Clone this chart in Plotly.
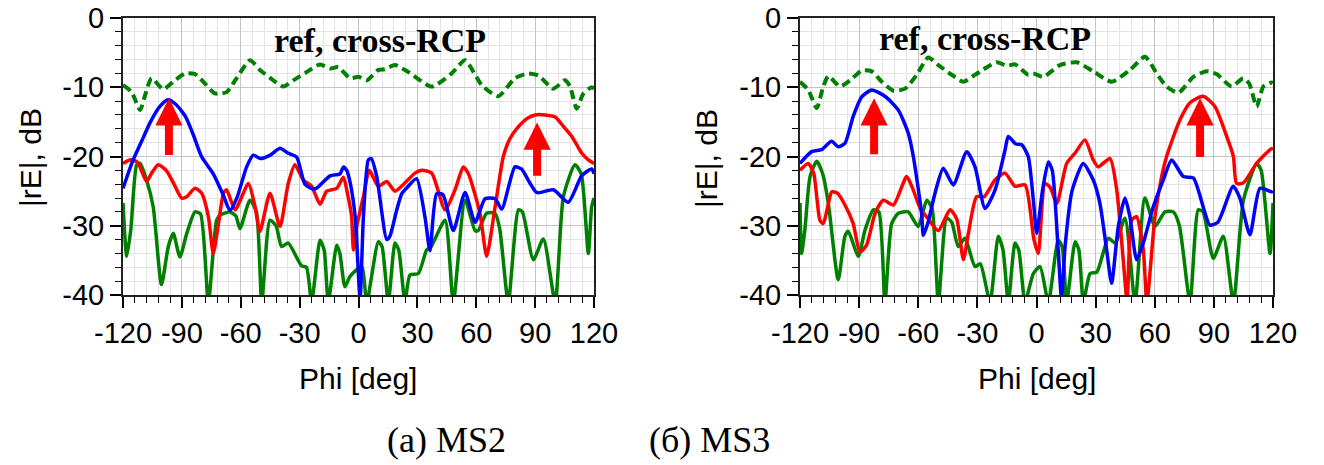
import plotly.graph_objects as go

# ---------------- data ----------------
# MS2 (left panel)
ms2_blue_phi = [-120,-115,-111,-106,-101,-97,-93,-88,-84,-80,-74,-69,-65.5,-62,-57,-53.6,-50,-45,-40,-36,-31.5,-27.3,-23,-21,-14.5,-9.4,-7.7,-6,-4.3,-1.7,0.8,2.5,5,6.5,9.3,14.4,16,19.5,22,25,29.6,33.9,36.4,39.8,43,48.3,54.3,59.4,64.5,69.6,73,79.7,83,90.8,99.3,106.9,113.7,118.8,120]
ms2_blue_db = [-24.6,-20.6,-18.1,-15,-12.7,-11.8,-12.5,-14.3,-17,-20,-22.5,-25.5,-27.8,-26,-21.5,-19.8,-20.3,-19.8,-18.8,-19.5,-20.1,-24,-24.7,-24.5,-22.8,-22.5,-21.5,-22,-23.7,-28.7,-40.5,-28.7,-20.5,-20.3,-22.9,-32,-31.5,-27.7,-25.4,-24.4,-23.2,-28.8,-33.6,-25.4,-25.5,-30.7,-25.2,-29.5,-26.1,-26.1,-27.6,-21.5,-21.8,-25.2,-24.8,-26.6,-22.8,-21.8,-22.5]

ms2_red_phi = [-120,-116.6,-114,-112.2,-108,-105.4,-102,-97.7,-94,-90.1,-87.5,-83.3,-79.9,-76.5,-74,-71.5,-68.8,-67.2,-62.9,-56.1,-52.7,-50.2,-45.1,-40,-35.8,-32.4,-28.1,-23.9,-19.6,-16.2,-11.1,-7.7,-5.5,-3.5,-2.6,-0.9,2.5,5.5,10.1,14.4,18.6,23.7,28.8,32.2,37.3,44.1,49.2,53.4,56,61.9,65.3,69.6,73.8,77,81.5,86,90,95,100.2,104,108.7,113.7,117.1,120]
ms2_red_db = [-21,-20.5,-20.6,-21,-23.6,-22.4,-21.2,-22.1,-24,-26,-25.8,-24.6,-25.3,-28.7,-34,-30,-25.3,-24.8,-27.7,-23.9,-27.3,-30.8,-25.3,-30.1,-23.9,-21.2,-23.4,-24.3,-26.9,-25,-24.6,-23,-25.5,-28.7,-33.5,-30.1,-25.8,-22,-24.3,-23.6,-25,-23.8,-22.4,-22,-22.4,-27.7,-24.8,-21.5,-22.5,-28.2,-34.4,-27.3,-20,-17.5,-15.7,-14.5,-14,-14,-14.3,-15.5,-17.1,-19.5,-20.5,-21]

ms2_green_phi = [-120,-118.1,-116,-113,-111.3,-108,-104.6,-100.4,-96.9,-94.4,-91,-87.5,-83.3,-80.5,-76.5,-72.3,-70.6,-65.5,-62.5,-60.4,-55.3,-52,-49.3,-45.1,-42,-39.2,-35.8,-29,-26.5,-23.9,-19.6,-17.5,-15.4,-11.1,-9.5,-6.9,-4.3,1.6,4.2,10.1,12,15.2,18.6,20.5,23.7,26.2,30.5,34.7,37,44.1,48.3,54.3,59.4,61,65.3,69.6,72,76.3,81.5,83.5,89.1,94.2,100.2,104.4,110.3,113.5,117.1,118.8,120]
ms2_green_db = [-26.7,-34.4,-30.5,-21.2,-21,-23.4,-27.3,-38.5,-33,-31.1,-34.5,-31.1,-28,-28.3,-41,-29.2,-28.5,-28,-28.6,-30.4,-26.3,-28,-41,-29.2,-30,-33,-32.5,-35.8,-36,-41,-32.1,-33.5,-41,-32.8,-34,-38.8,-37.3,-35.9,-41,-32.3,-33,-41,-32.5,-33.5,-41,-37.1,-36.9,-33.5,-33,-29.2,-41,-26.3,-30.7,-30.7,-28.2,-28.2,-30.5,-41,-27.7,-28,-34.9,-31.9,-41,-25.8,-21.2,-22.5,-34,-27.3,-26]

ms2_ref_phi = [-120,-115.6,-111.3,-108.8,-105.4,-99.5,-94.4,-88.4,-83.3,-79.1,-73.1,-67.2,-62.1,-55.3,-50.2,-43.4,-38.3,-33.2,-26.4,-19.6,-14.5,-10.3,-4.3,0,4.2,10.1,13.5,18.6,25.4,37.3,47.5,54.3,62.8,71.2,79.7,86.5,91.6,99.3,105.2,107.8,111.2,114.6,118.8,120]
ms2_ref_db = [-9.7,-10.7,-13.3,-11.2,-8.7,-10.3,-9.2,-8.0,-8.1,-9.2,-10.9,-10.7,-8.7,-6.1,-7.5,-9.0,-9.9,-9.0,-7.8,-6.7,-7.3,-7.1,-8.7,-8.5,-9.0,-7.5,-7.4,-6.8,-7.8,-9.9,-8.0,-6.1,-9.7,-11.3,-8.7,-8.0,-8.3,-10.2,-9.0,-9.9,-13.1,-10.9,-10.0,-10.2]

# MS3 (right panel)
ms3_blue_phi = [-120,-114.1,-109,-104,-100.6,-97.2,-93,-88.7,-83.6,-76.9,-70.1,-65.1,-62.5,-58.3,-57.4,-55,-51.5,-47.3,-42.2,-35.4,-31.2,-26.1,-21.1,-16,-14.3,-10.5,-7.5,-4.2,-1.6,0.1,3,6,8,11,12.7,14.5,18,23.7,28.8,32.2,35.6,38.1,41.5,44.9,47.4,50.8,54.2,59.2,64.3,68.6,74.5,79.6,88,92,99.8,103.2,108.3,113.4,119.3,120]
ms3_blue_db = [-21,-19.3,-19,-17.8,-18.6,-18.1,-14.2,-11.4,-10.4,-11.3,-13.3,-16.6,-20,-28.2,-31.4,-29.5,-25.3,-21.7,-24.1,-19.3,-21.5,-27.5,-24.9,-19.1,-17.1,-18.2,-18.3,-20,-26.3,-31.1,-25,-20.8,-22,-33.5,-40.5,-33,-25,-21,-23.4,-26.8,-33.5,-38.3,-30.1,-26,-28.7,-34.9,-32.5,-27.3,-23.4,-20.5,-22.9,-23.1,-29.9,-29.5,-24.3,-26,-31.3,-24.6,-25.1,-25]

ms3_red_phi = [-120,-115.8,-113,-109.9,-108.2,-105.6,-103.9,-101,-97.2,-93,-89.6,-86.2,-81.9,-77.7,-72.6,-65.9,-63,-59,-55,-49.8,-43.9,-40.5,-37.1,-34.5,-30.4,-26.5,-21.1,-16,-10.9,-5.8,-1.3,0.9,4.3,7,10.3,15.3,19.6,24.6,28.8,31.3,37.3,40.7,44,46,48.3,50.8,54.2,56,60.1,63.5,66,72.8,78,84.6,90.6,96.5,99.9,101.5,105,111.7,118.5,120]
ms3_red_db = [-22,-21,-22.5,-29.2,-29.7,-26.8,-25.1,-25.3,-27,-29.7,-33.8,-32.8,-28.2,-26.3,-27,-22.9,-24.5,-27.5,-29,-30.7,-27.7,-29,-34.9,-31,-25.8,-25.8,-23.4,-22.4,-24.3,-24.1,-32,-34,-23.9,-24.5,-26.8,-21,-19.5,-17.6,-20.5,-21.5,-20.3,-24.8,-34.9,-41,-29.2,-28.7,-33.5,-41,-28.7,-22.9,-20,-14.7,-12.2,-11.3,-12.8,-17.1,-20,-23.9,-23.8,-21,-19,-18.8]

ms3_green_phi = [-120,-119.2,-117.5,-114.9,-111.5,-108.5,-105.6,-100.6,-97.2,-95.5,-90.4,-87,-82.8,-80,-76.9,-73.5,-70.1,-65.1,-60,-55.7,-53,-49.8,-45.6,-43,-39.7,-36.3,-31.2,-28.5,-23.6,-19.4,-17,-14.3,-10.9,-9,-5.8,-1.6,1.8,6,11,13,15.3,19.6,21.5,23.8,27.2,30.6,36.5,40,44.9,50,55,60.1,65.2,69.4,72.5,77.9,82.1,84.5,89.7,94.8,99.9,105,111.7,114,118.5,120]
ms3_green_db = [-26.7,-34,-30.5,-22.9,-20.7,-22.5,-26.8,-37.8,-31.5,-30.8,-34.4,-30.6,-27.7,-28,-41,-29.7,-28.2,-28,-30.1,-26.3,-27.5,-41,-28.9,-29.5,-33,-31.8,-35.9,-35.5,-41,-31.5,-33.5,-41,-32.5,-33.5,-41,-36.9,-35.9,-41,-32.1,-33,-41,-32.3,-33.5,-41,-36.9,-36.7,-31.8,-32.5,-28.9,-41,-26,-30.1,-28,-28,-30,-41,-27.7,-28,-34.7,-31.5,-41,-26.3,-21,-22,-34,-26.7]

ms3_ref_phi = [-120,-115.8,-111.5,-108.2,-105.6,-99.7,-94.6,-88.7,-83.6,-78.5,-72.6,-66.7,-60.8,-54.9,-49.8,-43,-37.1,-31.2,-20.2,-15.1,-10.9,-4.2,-1.6,3.4,11.9,20.4,28.8,38.1,47.4,55,61,66,72,79.6,86.3,91.4,99,104.9,108,111.7,115.1,119.3,120]
ms3_ref_db = [-9.2,-10.4,-13.0,-9.9,-8.4,-9.9,-9.0,-7.6,-7.7,-9.2,-10.5,-10.2,-8.2,-5.7,-6.8,-8.2,-9.2,-8.2,-6.4,-6.9,-6.7,-8.2,-8.0,-8.5,-6.8,-6.4,-7.7,-9.2,-7.5,-5.6,-8.0,-9.9,-10.8,-8.5,-7.7,-8.1,-9.9,-8.7,-9.5,-12.8,-9.9,-9.3,-9.4]

# red arrows marking the main beams: (phi, tip dB, tail dB)
ms2_arrow_phi = [-96.6, 91]
ms2_arrow_tip = [-11.6, -15.1]
ms2_arrow_tail = [-20, -23]
ms3_arrow_phi = [-82.4, 83]
ms3_arrow_tip = [-11.6, -11.6]
ms3_arrow_tail = [-19.9, -20.3]

x_ticks = [-120, -90, -60, -30, 0, 30, 60, 90, 120]
y_ticks = [0, -10, -20, -30, -40]
panel_label = "ref, cross-RCP"
captions = ["(a) MS2", "(\u0431) MS3"]

# ---------------- figure ----------------
W, H = 1324, 465
def px(x):
    return x / W
def py(y):
    return 1 - y / H

BLUE, RED, GREEN = "#0000ff", "#ff0000", "#008000"
SANS = "Liberation Sans, Arial, sans-serif"
SERIF = "Liberation Serif, Times New Roman, serif"

fig = go.Figure()
panels = [
    ("x", "y", ms2_blue_phi, ms2_blue_db, ms2_red_phi, ms2_red_db, ms2_green_phi, ms2_green_db, ms2_ref_phi, ms2_ref_db),
    ("x2", "y2", ms3_blue_phi, ms3_blue_db, ms3_red_phi, ms3_red_db, ms3_green_phi, ms3_green_db, ms3_ref_phi, ms3_ref_db),
]
SM = 0.6
for xa, ya, bp, bd, rp, rd, gp, gd, fp, fd in panels:
    fig.add_trace(go.Scatter(x=fp, y=fd, mode="lines", xaxis=xa, yaxis=ya,
                             line=dict(color=GREEN, width=4, dash="9px,5px", shape="spline", smoothing=SM),
                             showlegend=False))
    fig.add_trace(go.Scatter(x=gp, y=gd, mode="lines", xaxis=xa, yaxis=ya,
                             line=dict(color=GREEN, width=3.5, shape="spline", smoothing=SM), showlegend=False))
    fig.add_trace(go.Scatter(x=rp, y=rd, mode="lines", xaxis=xa, yaxis=ya,
                             line=dict(color=RED, width=3.5, shape="spline", smoothing=SM), showlegend=False))
    fig.add_trace(go.Scatter(x=bp, y=bd, mode="lines", xaxis=xa, yaxis=ya,
                             line=dict(color=BLUE, width=3.5, shape="spline", smoothing=SM), showlegend=False))

TICKFONT = dict(family=SANS, size=29, color="black")

def xaxis_cfg(dom):
    return dict(domain=dom, range=[-120, 120], tickvals=x_ticks, ticktext=[str(v) for v in x_ticks],
                ticks="outside", ticklen=11, tickwidth=1.5, tickcolor="black", automargin=False,
                showline=True, linecolor="#222", linewidth=2, mirror=True,
                showgrid=True, gridcolor="#c4c4c4", gridwidth=1.2, zeroline=False,
                tickfont=TICKFONT,
                minor=dict(dtick=6, tick0=-120, ticks="outside", ticklen=6, tickwidth=1.2, tickcolor="black",
                           showgrid=True, gridcolor="#e4e4e4", gridwidth=1),
                fixedrange=True)

def yaxis_cfg(dom, anchor):
    return dict(domain=dom, range=[-40, 0], tickvals=y_ticks, ticktext=[str(v) for v in y_ticks],
                anchor=anchor, ticks="outside", ticklen=11, tickwidth=1.5, tickcolor="black", automargin=False,
                showline=True, linecolor="#222", linewidth=2, mirror=True,
                showgrid=True, gridcolor="#c4c4c4", gridwidth=1.2, zeroline=False,
                tickfont=TICKFONT,
                minor=dict(dtick=2, ticks="outside", ticklen=6, tickwidth=1.2, tickcolor="black",
                           showgrid=True, gridcolor="#e4e4e4", gridwidth=1),
                fixedrange=True)

ydom = [py(295), py(18)]
fig.update_layout(
    width=W, height=H, margin=dict(l=0, r=0, t=0, b=0, autoexpand=False),
    paper_bgcolor="white", plot_bgcolor="white",
    xaxis=dict(**xaxis_cfg([px(123), px(594)]), anchor="y"),
    yaxis=yaxis_cfg(ydom, "x"),
    xaxis2=dict(**xaxis_cfg([px(800), px(1273)]), anchor="y2"),
    yaxis2=yaxis_cfg(ydom, "x2"),
)

shapes = []
annotations = []
# white label boxes and labels
for (x0, x1, y1, tx, ty) in [(268, 556, 58, 272, 40), (873, 1160, 56, 877, 38)]:
    shapes.append(dict(type="rect", xref="paper", yref="paper", x0=px(x0), x1=px(x1), y0=py(y1), y1=py(19),
                       fillcolor="white", line=dict(width=0), layer="between"))
    annotations.append(dict(text="<b>" + panel_label + "</b>", xref="paper", yref="paper", x=px(tx), y=py(ty),
                            xanchor="left", yanchor="middle", showarrow=False,
                            font=dict(family=SERIF, size=34, color="black")))

# arrows
for xr, yr, phis, tips, tails in [("x", "y", ms2_arrow_phi, ms2_arrow_tip, ms2_arrow_tail),
                                  ("x2", "y2", ms3_arrow_phi, ms3_arrow_tip, ms3_arrow_tail)]:
    for p, t, b in zip(phis, tips, tails):
        annotations.append(dict(x=p, y=t, ax=p, ay=b, xref=xr, yref=yr, axref=xr, ayref=yr, text="",
                                showarrow=True, arrowhead=2, arrowsize=0.68, arrowwidth=8,
                                arrowcolor=RED, standoff=0))

# axis titles
for cx in [358, 1037]:
    annotations.append(dict(text="Phi [deg]", xref="paper", yref="paper", x=px(cx), y=py(378),
                            xanchor="center", yanchor="middle", showarrow=False,
                            font=dict(family=SANS, size=30, color="black")))
for cx in [30, 706]:
    annotations.append(dict(text="|rE|, dB", xref="paper", yref="paper", x=px(cx), y=py(158),
                            xanchor="center", yanchor="middle", showarrow=False, textangle=-90,
                            font=dict(family=SANS, size=30, color="black")))
# captions
for cx, txt in zip([446, 709], captions):
    annotations.append(dict(text=txt, xref="paper", yref="paper", x=px(cx), y=py(440),
                            xanchor="center", yanchor="middle", showarrow=False,
                            font=dict(family=SERIF, size=36, color="black")))

fig.update_layout(shapes=shapes, annotations=annotations)
fig.write_html("out.html")
